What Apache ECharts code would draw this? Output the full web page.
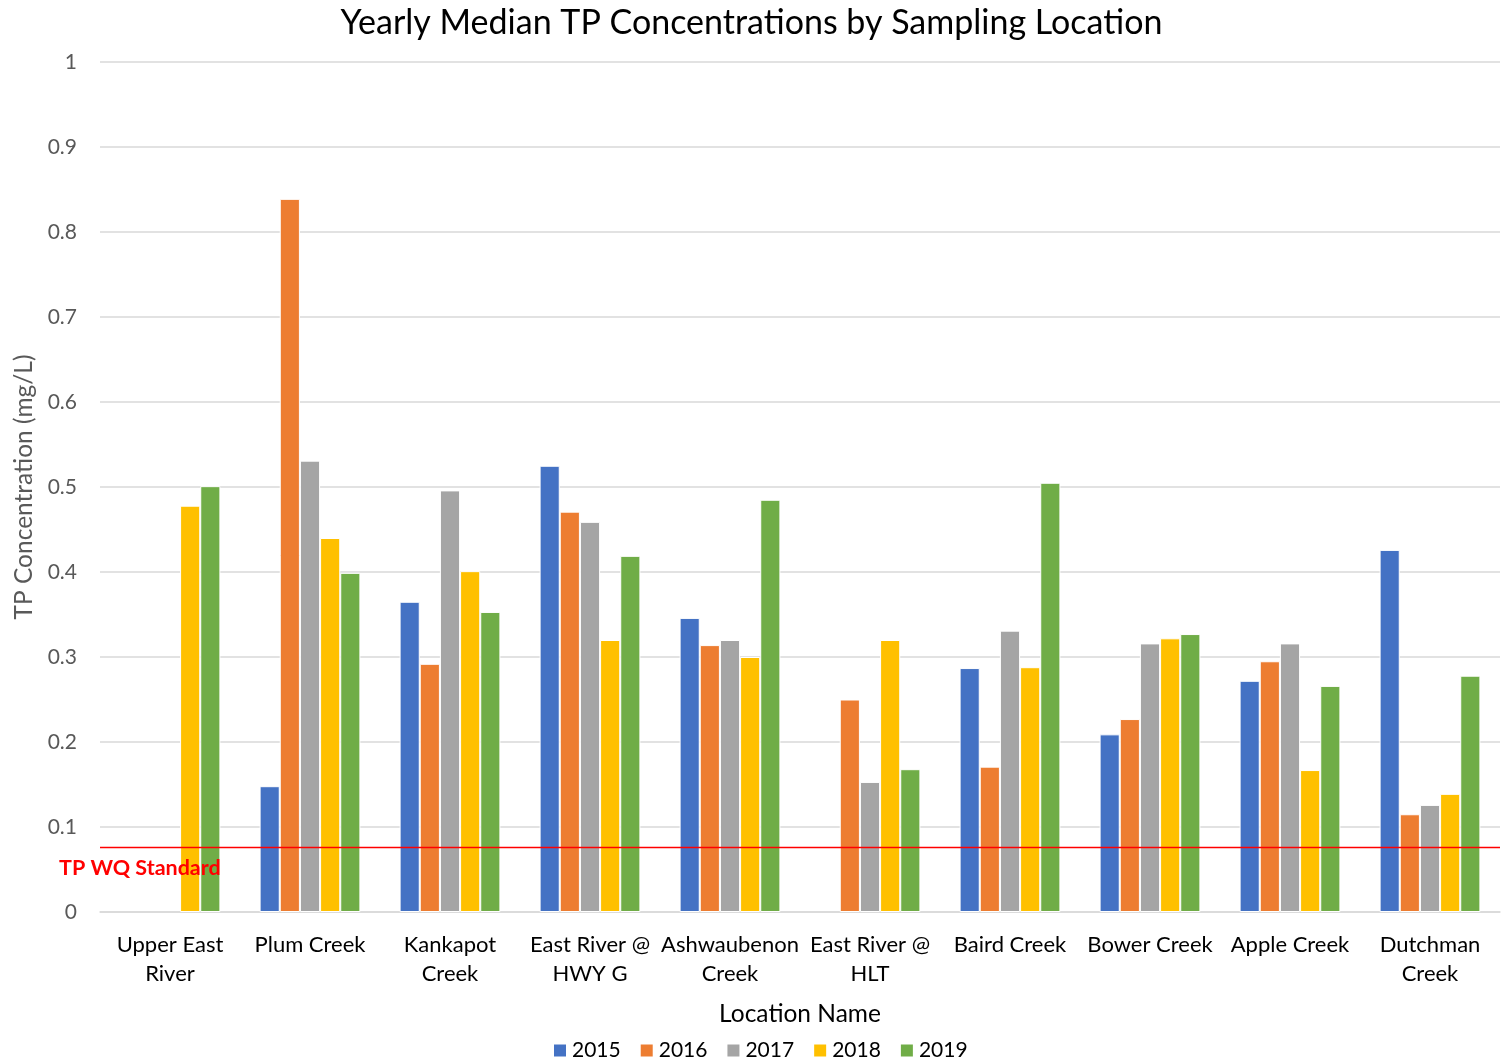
<!DOCTYPE html>
<html><head><meta charset="utf-8">
<script src="https://cdn.jsdelivr.net/npm/echarts@6/dist/echarts.min.js"></script>
<style>html,body{margin:0;padding:0;background:#fff}#c{width:1503px;height:1063px}</style>
</head><body><div id="c"></div>
<script>
const categories = ["Upper East\nRiver","Plum Creek","Kankapot\nCreek","East River @\nHWY G","Ashwaubenon\nCreek","East River @\nHLT","Baird Creek","Bower Creek","Apple Creek","Dutchman\nCreek"];
const years = ["2015","2016","2017","2018","2019"];
const v2015 = [null,0.148,0.365,0.525,0.346,null,0.287,0.209,0.272,0.426];
const v2016 = [null,0.839,0.292,0.471,0.314,0.250,0.171,0.227,0.295,0.115];
const v2017 = [null,0.531,0.496,0.459,0.320,0.153,0.331,0.316,0.316,0.126];
const v2018 = [0.478,0.440,0.401,0.320,0.300,0.320,0.288,0.322,0.167,0.139];
const v2019 = [0.501,0.399,0.353,0.419,0.485,0.168,0.505,0.327,0.266,0.278];
const standard = 0.076;
const colors = ["#4472C4","#ED7D31","#A5A5A5","#FFC000","#70AD47"];
const font = "Lato";
const values = [v2015,v2016,v2017,v2018,v2019];
const series = years.map((y,i)=>({
  name:y,type:'bar',data:values[i],barGap:'0%',barCategoryGap:'28%',
  itemStyle:{color:colors[i],borderColor:'#fff',borderWidth:1},
  markLine: i===0 ? {symbol:'none',silent:true,precision:3,
    itemStyle:{color:'#ff0000'},
    lineStyle:{color:'#ff0000',width:1.4,type:'solid',opacity:1},
    label:{show:true,position:'insideStartBottom',formatter:'TP WQ Standard',color:'#ff0000',fontWeight:'bold',fontSize:21.5,fontFamily:font,offset:[-46,5]},
    data:[{yAxis:standard,lineStyle:{color:'#ff0000'}}]} : undefined
}));
const chart = echarts.init(document.getElementById('c'));
chart.setOption({
  animation:false,
  color:colors,
  title:{text:'Yearly Median TP Concentrations by Sampling Location',left:'center',top:1,
    textStyle:{fontFamily:font,fontSize:34,fontWeight:'normal',color:'#000'}},
  legend:{bottom:-3,left:547,itemWidth:14,itemHeight:14,itemGap:18,icon:'rect',
    textStyle:{fontFamily:font,fontSize:21,color:'#000'}},
  grid:{left:100,right:3,top:62,bottom:151,containLabel:false},
  xAxis:{type:'category',data:categories,name:'Location Name',nameLocation:'middle',nameGap:90,
    nameTextStyle:{fontFamily:font,fontSize:24.5,color:'#000'},
    axisLine:{lineStyle:{color:'#d9d9d9',width:1.5}},axisTick:{show:false},
    axisLabel:{fontFamily:font,fontSize:22,color:'#000',lineHeight:29,margin:18,interval:0}},
  yAxis:{type:'value',min:0,max:1,interval:0.1,name:'TP Concentration (mg/L)',nameLocation:'middle',nameGap:63,
    nameTextStyle:{fontFamily:font,fontSize:24.5,color:'#595959'},
    axisLine:{show:false},axisTick:{show:false},
    splitLine:{lineStyle:{color:'#d9d9d9',width:1.5}},
    axisLabel:{fontFamily:font,fontSize:21,color:'#595959',margin:23}},
  series:series
});
</script></body></html>
